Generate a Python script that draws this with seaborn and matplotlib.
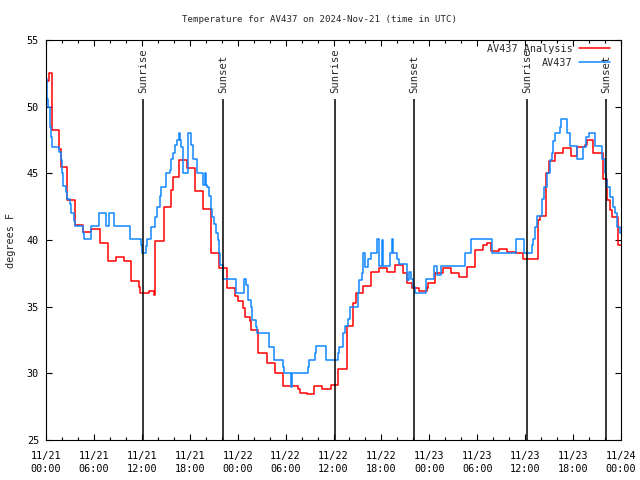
"""Temperature for AV437, analysis vs observed, with sunrise/sunset markers."""
import matplotlib
matplotlib.use("Agg")
import matplotlib.pyplot as plt
import seaborn as sns
from matplotlib.ticker import MultipleLocator

# hours since 2024-11-21 00:00 UTC and temperature (deg F), step series
analysis_hours = [0.0, 0.4, 0.8, 1.67, 1.92, 2.6, 3.67, 4.68, 5.6, 6.76, 7.76, 8.76,
                  9.77, 10.68, 11.6, 11.8, 12.9, 13.5, 13.7, 14.78, 15.69, 15.86,
                  16.61, 17.7, 18.7, 19.62, 20.62, 21.6, 22.7, 23.7, 24.0, 24.7,
                  24.9, 25.6, 25.7, 26.6, 27.7, 28.7, 29.7, 31.6, 31.8, 32.7, 33.6,
                  34.6, 35.7, 36.6, 37.65, 38.5, 38.8, 39.7, 40.75, 41.75, 42.75,
                  43.7, 44.75, 45.25, 45.79, 46.75, 47.67, 47.88, 48.71, 49.76,
                  50.67, 51.76, 52.68, 53.72, 54.77, 55.27, 55.68, 56.77, 57.77,
                  58.85, 59.77, 61.65, 61.86, 62.61, 63.03, 63.74, 64.7, 65.7,
                  66.54, 67.5, 67.7, 68.45, 69.7, 70.2, 70.62, 70.83, 71.58, 72.0]
analysis_temp = [51.9, 52.5, 48.25, 46.8, 45.5, 43.0, 41.1, 40.6, 40.8, 39.8, 38.45, 38.7,
                 38.4, 36.9, 36.5, 36.0, 36.2, 35.9, 39.9, 42.45, 43.75, 44.75,
                 46.0, 45.4, 43.7, 42.3, 39.0, 37.9, 36.4, 35.8, 35.4, 34.9,
                 34.25, 33.9, 33.25, 31.55, 30.8, 30.05, 29.05, 28.8, 28.55, 28.45, 29.05,
                 28.8, 29.1, 30.3, 33.55, 35.25, 36.0, 36.55, 37.6, 37.9, 37.6,
                 38.1, 37.55, 36.75, 36.4, 36.2, 36.4, 36.75, 37.5, 37.9,
                 37.55, 37.2, 38.0, 39.25, 39.6, 39.8, 39.2, 39.3, 39.1,
                 39.0, 38.55, 41.5, 41.8, 45.0, 45.9, 46.55, 46.9, 46.3,
                 47.0, 47.1, 47.5, 46.5, 44.6, 43.0, 42.25, 41.75, 39.6, 39.6]

obs_hours = [0.0, 0.1, 0.17, 0.29, 0.5, 0.63, 0.71, 0.79, 1.67, 1.84, 2.0, 2.17, 2.5,
             2.67, 3.0, 3.17, 3.5, 3.67, 4.59, 4.76, 5.59, 6.59, 7.51, 7.85, 8.51,
             10.52, 11.94, 12.02, 12.56, 12.69, 13.19, 13.61, 13.94, 14.23, 14.44,
             15.07, 15.49, 15.69, 15.9, 16.11, 16.44, 16.61, 16.74, 16.95, 17.15,
             17.78, 18.2, 18.41, 18.95, 19.66, 19.87, 20.08, 20.2, 20.37, 20.62,
             20.79, 21.04, 21.33, 21.54, 21.6, 21.8, 22.2, 23.75, 24.84, 25.0,
             25.25, 25.67, 25.84, 26.25, 26.42, 27.92, 28.51, 29.72, 29.85, 30.68,
             30.85, 32.76, 32.93, 33.68, 33.81, 35.06, 36.55, 36.7, 37.15, 37.44,
             37.86, 38.06, 39.11, 39.23, 39.53, 39.73, 39.9, 40.36, 40.65, 41.41,
             41.75, 42.05, 42.15, 43.07, 43.28, 43.41, 43.91, 44.24, 45.24, 45.41,
             45.7, 46.0, 46.21, 47.58, 48.58, 49.0, 49.42, 52.47, 53.18, 55.81,
             58.85, 59.8, 60.81, 61.02, 61.23, 61.44, 62.06, 62.36, 62.69, 63.11,
             63.32, 63.53, 63.74, 64.3, 64.45, 65.2, 65.61, 66.53, 67.29, 67.62,
             68.04, 68.79, 69.58, 70.0, 70.13, 70.3, 70.63, 70.97, 71.26, 71.47,
             71.88, 72.0]
obs_temp = [52.05, 51.5, 50.6, 50.0, 48.5, 47.75, 47.4, 47.0, 46.6, 46.0, 45.0, 44.05, 43.6,
            43.05, 42.7, 42.0, 41.45, 41.05, 40.55, 40.05, 41.05, 42.0, 41.05, 42.0, 41.05,
            40.05, 39.6, 39.0, 39.55, 40.1, 40.95, 41.75, 42.5, 43.3, 44.0,
            45.0, 45.25, 46.05, 46.55, 47.1, 47.5, 48.0, 47.5, 47.0, 45.0,
            48.0, 47.1, 46.05, 45.0, 44.1, 45.0, 44.1, 44.0, 43.3, 42.3,
            41.75, 41.2, 40.5, 40.0, 39.0, 38.1, 37.05, 36.0, 37.05, 36.6,
            35.5, 35.0, 34.0, 33.45, 33.0, 32.0, 31.0, 30.5, 30.0, 29.0,
            30.0, 30.5, 31.0, 31.5, 32.05, 31.0, 31.5, 32.0, 33.05, 33.55,
            34.1, 35.0, 36.0, 37.0, 37.5, 39.0, 38.0, 38.55, 39.0, 40.05,
            38.05, 40.0, 38.05, 39.0, 40.05, 39.0, 38.55, 38.2, 37.0, 37.6,
            37.05, 36.5, 36.05, 37.05, 38.05, 37.4, 38.05, 39.0, 40.05, 39.0,
            40.05, 39.0, 39.6, 40.1, 41.0, 41.8, 43.05, 44.0, 45.0, 46.0,
            46.5, 47.4, 48.0, 48.5, 49.05, 48.05, 47.05, 46.05, 47.0, 47.75,
            48.05, 47.05, 46.05, 45.0, 44.5, 44.0, 43.2, 42.5, 42.0, 41.0,
            40.5, 40.5]

sun_hours = [12.2, 22.2, 36.22, 46.12, 60.25, 70.12]
sun_names = ["Sunrise", "Sunset", "Sunrise", "Sunset", "Sunrise", "Sunset"]

tick_hours = [0, 6, 12, 18, 24, 30, 36, 42, 48, 54, 60, 66, 72]
tick_labels = ["11/21\n00:00", "11/21\n06:00", "11/21\n12:00", "11/21\n18:00",
               "11/22\n00:00", "11/22\n06:00", "11/22\n12:00", "11/22\n18:00",
               "11/23\n00:00", "11/23\n06:00", "11/23\n12:00", "11/23\n18:00",
               "11/24\n00:00"]

FS = 7.3

sns.set_style("ticks")
plt.rcParams["font.family"] = ["DejaVu Sans Mono"]
plt.rcParams["font.size"] = FS

fig = plt.figure(figsize=(6.4, 4.8), dpi=100)
ax = fig.add_axes([46 / 640, 40 / 480, 575 / 640, 400 / 480])

sns.lineplot(x=analysis_hours, y=analysis_temp, drawstyle="steps-post", color="#ff0000",
             lw=1.1, label="AV437 Analysis", estimator=None, sort=False, ax=ax)
sns.lineplot(x=obs_hours, y=obs_temp, drawstyle="steps-post", color="#0f87ff",
             lw=1.1, label="AV437", estimator=None, sort=False, ax=ax)

ax.vlines(sun_hours, 25, 50.55, color="black", lw=1.1)
for h, name in zip(sun_hours, sun_names):
    ax.text(h, 51.0, name, rotation=90, ha="center", va="bottom", fontsize=7.6)

ax.set_xlim(0, 72)
ax.set_ylim(25, 55)
ax.set_xticks(tick_hours)
ax.set_xticklabels(tick_labels, linespacing=1.35)
ax.xaxis.set_minor_locator(MultipleLocator(2))
ax.set_yticks(range(25, 56, 5))
ax.tick_params(which="both", direction="in", top=True, right=True, width=0.8,
               labelsize=FS, colors="black")
ax.tick_params(which="major", length=4.5)
ax.tick_params(which="minor", length=2.2)
ax.tick_params(axis="x", pad=8)
ax.tick_params(axis="y", pad=5)
for s in ax.spines.values():
    s.set_visible(True)
    s.set_linewidth(0.8)
    s.set_color("black")

ax.set_xlabel("")
ax.set_ylabel("degrees F", fontsize=FS)
ax.yaxis.set_label_coords(-30 / 575, 0.5)
fig.text(0.5, 1 - 20 / 480, "Temperature for AV437 on 2024-Nov-21 (time in UTC)",
         ha="center", va="center", fontsize=6.6)

ax.legend(loc="upper right", bbox_to_anchor=(0.984, 0.995), borderaxespad=0,
          borderpad=0.2, markerfirst=False, frameon=False, handlelength=3.0,
          handletextpad=0.7, labelspacing=0.35, fontsize=FS)

fig.savefig("out.png", dpi=100)
plt.close(fig)
